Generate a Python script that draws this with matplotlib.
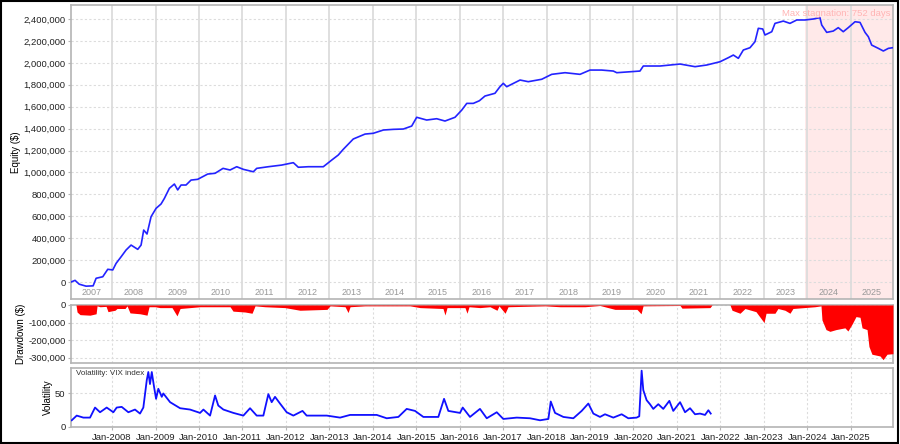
import numpy as np
import pandas as pd
import matplotlib
matplotlib.use("Agg")
import matplotlib.pyplot as plt
import matplotlib.dates as mdates
import matplotlib.ticker as mticker
from matplotlib.patches import Rectangle

plt.rcParams['font.family'] = ['Liberation Sans', 'DejaVu Sans']

# Equity curve ($)
eq_dates = ['2007-01-21', '2007-02-24', '2007-03-31', '2007-05-28', '2007-07-26', '2007-08-20',
            '2007-10-15', '2007-11-26', '2008-01-07', '2008-02-04', '2008-03-17', '2008-04-28',
            '2008-06-09', '2008-08-04', '2008-09-01', '2008-09-23', '2008-10-21', '2008-11-24',
            '2009-01-05', '2009-02-16', '2009-03-16', '2009-04-27', '2009-06-08', '2009-07-06',
            '2009-08-03', '2009-09-14', '2009-10-26', '2009-12-21', '2010-02-01', '2010-03-15',
            '2010-05-16', '2010-07-22', '2010-09-19', '2010-11-14', '2011-01-09', '2011-04-03',
            '2011-05-01', '2011-08-07', '2011-11-27', '2012-03-04', '2012-04-15', '2012-07-08',
            '2012-11-11', '2013-01-21', '2013-03-17', '2013-04-28', '2013-07-21', '2013-10-28',
            '2014-01-05', '2014-03-31', '2014-06-23', '2014-09-15', '2014-11-24', '2015-01-05',
            '2015-03-30', '2015-06-22', '2015-08-31', '2015-11-23', '2016-01-19', '2016-03-01',
            '2016-04-25', '2016-06-15', '2016-08-01', '2016-10-24', '2016-12-05', '2017-01-02',
            '2017-01-31', '2017-05-23', '2017-07-31', '2017-11-21', '2018-02-13', '2018-06-05',
            '2018-10-09', '2019-01-01', '2019-04-09', '2019-07-16', '2019-08-14', '2020-02-25',
            '2020-03-24', '2020-08-12', '2021-01-27', '2021-06-02', '2021-09-08', '2021-12-29',
            '2022-03-09', '2022-04-20', '2022-06-01', '2022-07-13', '2022-09-07', '2022-10-19',
            '2022-11-16', '2022-12-23', '2023-01-11', '2023-03-09', '2023-04-05', '2023-06-14',
            '2023-08-09', '2023-10-05', '2023-12-13', '2024-02-21', '2024-04-17', '2024-05-02',
            '2024-06-13', '2024-08-07', '2024-09-18', '2024-10-30', '2024-12-11', '2025-02-06',
            '2025-03-20', '2025-05-01', '2025-05-29', '2025-06-26', '2025-08-21', '2025-10-02',
            '2025-11-13', '2025-12-20']
eq_values = [0, 15000, -20000, -38000, -35000, 34000,
             48000, 116000, 110000, 170000, 230000, 292000,
             337000, 298000, 337000, 474000, 438000, 596000,
             672000, 712000, 763000, 855000, 894000, 840000,
             885000, 885000, 930000, 937000, 961000, 985000,
             992000, 1037000, 1022000, 1052000, 1028000, 1006000,
             1037000, 1052000, 1067000, 1089000, 1047000, 1052000,
             1052000, 1113000, 1159000, 1211000, 1305000, 1350000,
             1357000, 1387000, 1393000, 1396000, 1423000, 1503000,
             1478000, 1490000, 1469000, 1503000, 1569000, 1630000,
             1630000, 1654000, 1697000, 1722000, 1782000, 1813000,
             1782000, 1843000, 1828000, 1850000, 1895000, 1910000,
             1895000, 1934000, 1934000, 1925000, 1910000, 1925000,
             1971000, 1971000, 1989000, 1965000, 1980000, 2010000,
             2047000, 2071000, 2041000, 2117000, 2138000, 2193000,
             2315000, 2309000, 2254000, 2284000, 2360000, 2381000,
             2360000, 2391000, 2391000, 2400000, 2412000, 2345000,
             2278000, 2290000, 2321000, 2284000, 2321000, 2375000,
             2369000, 2278000, 2238000, 2162000, 2132000, 2108000,
             2132000, 2138000]

# Drawdown ($)
dd_dates = ['2007-01-21', '2007-03-04', '2007-03-13', '2007-04-07', '2007-06-30', '2007-08-20',
            '2007-08-28', '2007-09-22', '2007-11-12', '2007-11-28', '2008-01-26', '2008-02-12',
            '2008-04-19', '2008-05-06', '2008-05-31', '2008-08-23', '2008-10-21', '2008-11-07',
            '2008-12-27', '2009-02-07', '2009-05-19', '2009-06-30', '2009-07-26', '2009-10-18',
            '2010-01-10', '2010-09-19', '2010-10-14', '2011-01-23', '2011-03-23', '2011-04-17',
            '2011-07-10', '2011-12-25', '2012-04-29', '2012-12-12', '2013-01-07', '2013-05-13',
            '2013-06-07', '2013-06-24', '2013-10-28', '2014-11-10', '2015-02-02', '2015-08-14',
            '2015-08-31', '2015-09-17', '2016-02-15', '2016-03-03', '2016-03-20', '2016-06-20',
            '2016-09-12', '2016-11-10', '2016-11-27', '2017-01-17', '2017-02-11', '2017-12-19',
            '2018-04-24', '2018-11-20', '2019-03-26', '2019-07-30', '2020-01-31', '2020-03-05',
            '2020-03-22', '2021-01-27', '2021-02-12', '2021-10-06', '2021-10-23', '2022-03-23',
            '2022-04-09', '2022-06-15', '2022-07-27', '2022-10-27', '2023-01-03', '2023-01-20',
            '2023-04-05', '2023-04-30', '2023-06-28', '2023-08-09', '2023-09-03', '2024-03-06',
            '2024-04-26', '2024-05-04', '2024-06-07', '2024-07-10', '2024-08-30', '2024-11-13',
            '2024-12-08', '2025-01-11', '2025-02-14', '2025-03-20', '2025-04-06', '2025-05-18',
            '2025-06-03', '2025-06-28', '2025-09-04', '2025-09-30', '2025-11-02', '2025-12-22']
dd_values = [0, 0, -40000, -55000, -58000, -50000,
             -5000, -10000, -8000, -38000, -30000, -20000,
             -20000, -5000, -45000, -50000, -58000, -10000,
             -10000, -15000, -15000, -62000, -20000, -15000,
             -10000, -10000, -35000, -40000, -47000, -5000,
             -10000, -15000, -30000, -25000, -5000, -10000,
             -43000, -10000, -5000, -5000, -15000, -20000,
             -57000, -15000, -15000, -47000, -10000, -15000,
             -10000, -30000, -5000, -47000, -10000, -5000,
             -10000, -10000, -3000, -25000, -25000, -50000,
             -5000, -3000, -18000, -15000, 0, 0,
             -30000, -47000, -20000, -38000, -100000, -47000,
             -47000, -20000, -30000, -47000, -20000, -10000,
             -5000, -85000, -140000, -150000, -140000, -130000,
             -148000, -110000, -66000, -70000, -130000, -140000,
             -236000, -280000, -290000, -311000, -280000, -277000]

# VIX index
vix_dates = ['2007-01-27', '2007-03-10', '2007-05-05', '2007-06-30', '2007-08-11', '2007-09-22',
             '2007-11-17', '2008-01-12', '2008-02-09', '2008-03-22', '2008-05-17', '2008-07-12',
             '2008-08-23', '2008-09-20', '2008-10-19', '2008-11-01', '2008-11-15', '2008-11-30',
             '2008-12-19', '2009-01-05', '2009-01-24', '2009-02-22', '2009-03-07', '2009-05-03',
             '2009-07-26', '2009-10-18', '2010-01-10', '2010-02-07', '2010-04-04', '2010-05-16',
             '2010-06-12', '2010-07-25', '2010-10-17', '2011-01-09', '2011-03-06', '2011-05-01',
             '2011-06-26', '2011-08-07', '2011-09-04', '2011-10-02', '2011-11-13', '2012-01-08',
             '2012-03-04', '2012-05-20', '2012-06-24', '2012-12-10', '2013-04-01', '2013-06-24',
             '2013-09-30', '2014-02-03', '2014-04-28', '2014-08-04', '2014-10-13', '2014-12-22',
             '2015-03-02', '2015-07-06', '2015-08-23', '2015-09-28', '2016-01-04', '2016-01-27',
             '2016-03-28', '2016-06-20', '2016-08-16', '2016-11-08', '2017-01-02', '2017-04-25',
             '2017-08-15', '2017-11-07', '2018-01-16', '2018-02-05', '2018-03-13', '2018-05-22',
             '2018-08-14', '2018-10-23', '2018-12-18', '2019-01-29', '2019-03-26', '2019-05-07',
             '2019-07-16', '2019-09-24', '2019-11-19', '2020-01-28', '2020-02-19', '2020-03-10',
             '2020-03-24', '2020-04-21', '2020-05-19', '2020-06-16', '2020-07-28', '2020-09-08',
             '2020-10-29', '2020-12-01', '2021-01-27', '2021-03-10', '2021-04-21', '2021-06-02',
             '2021-07-14', '2021-08-25', '2021-09-22', '2021-10-12']
vix_values = [10, 17, 14, 14, 29, 22,
              29, 22, 29, 30, 22, 26,
              20, 29, 70, 82, 64, 82,
              60, 42, 57, 45, 50, 37,
              28, 26, 21, 26, 17, 47,
              32, 26, 21, 17, 28, 17,
              17, 49, 37, 45, 35, 22,
              17, 24, 17, 17, 14, 18,
              18, 18, 13, 15, 27, 24,
              15, 15, 42, 24, 21, 29,
              15, 27, 13, 22, 12, 14,
              13, 10, 12, 38, 21, 15,
              13, 24, 35, 20, 15, 19,
              14, 19, 13, 14, 16, 84,
              55, 40, 34, 27, 34, 27,
              39, 24, 37, 22, 28, 19,
              20, 18, 25, 20]

years = list(range(2007, 2026))
stag_start = '2023-12-13'
x_start, x_end = pd.Timestamp('2007-01-21'), pd.Timestamp('2025-12-22')

blue = '#2323ff'
grid_c = '#dcdcdc'
spine_c = '#b4b4b4'

fig = plt.figure(figsize=(9, 4.44), dpi=100)
ax1 = fig.add_axes([0.0789, 0.3266, 0.9133, 0.6622])
ax2 = fig.add_axes([0.0789, 0.1824, 0.9133, 0.1307], sharex=ax1)
ax3 = fig.add_axes([0.0789, 0.0383, 0.9133, 0.1329], sharex=ax1)

for ax in (ax1, ax2, ax3):
    for s in ax.spines.values():
        s.set_color(spine_c)
        s.set_linewidth(1.2)
    ax.tick_params(axis='both', labelsize=6.8, length=2, color=spine_c, labelcolor='#222222', pad=2)

# top panel: equity
ax1.plot(pd.to_datetime(eq_dates), eq_values, color=blue, lw=1.2, zorder=3)
ax1.set_ylim(-155000, 2528000)
ax1.set_yticks(np.arange(0, 2400001, 200000))
ax1.yaxis.set_major_formatter(mticker.FuncFormatter(lambda v, p: f'{v:,.0f}'))
ax1.grid(axis='y', color=grid_c, ls=(0, (2, 2)), lw=0.8)
ax1.set_ylabel('Equity ($)', fontsize=7, labelpad=1.5)
ax1.tick_params(axis='x', bottom=False, labelbottom=False)
ax1.axvspan(pd.Timestamp(stag_start), x_end, color='#ffe9e9', zorder=0, lw=0)
for y in years[1:]:
    ax1.axvline(pd.Timestamp(f'{y}-01-01'), color=grid_c, lw=1.3, zorder=1)
for y in years:
    a = max(pd.Timestamp(f'{y}-01-01'), x_start)
    b = min(pd.Timestamp(f'{y + 1}-01-01'), x_end)
    ax1.text(a + (b - a) / 2, 0.022, str(y), transform=ax1.get_xaxis_transform(),
             ha='center', va='center', fontsize=6.5, color='#999999')
ax1.text(0.997, 0.985, 'Max stagnation: 752 days', transform=ax1.transAxes,
         ha='right', va='top', fontsize=6.8, color='#ffb4b4')

# drawdown
ax2.fill_between(pd.to_datetime(dd_dates), dd_values, 0, color='#ff0000', lw=0, zorder=3)
ax2.set_ylim(-330000, 0)
ax2.set_yticks([0, -100000, -200000, -300000])
ax2.yaxis.set_major_formatter(mticker.FuncFormatter(lambda v, p: f'{v:,.0f}'))
ax2.set_ylabel('Drawdown ($)', fontsize=7, labelpad=1.5)
ax2.grid(True, color=grid_c, ls=(0, (2, 2)), lw=0.8)
ax2.tick_params(axis='x', bottom=False, labelbottom=False)

# volatility
ax3.plot(pd.to_datetime(vix_dates), vix_values, color='#1010ff', lw=1.3, zorder=3)
ax3.set_ylim(0, 88)
ax3.set_yticks([0, 50])
ax3.set_ylabel('Volatility', fontsize=7, labelpad=1.5)
ax3.grid(True, color=grid_c, ls=(0, (2, 2)), lw=0.8)
ax3.text(0.006, 0.96, 'Volatility: VIX index', transform=ax3.transAxes,
         ha='left', va='top', fontsize=5.8, color='#333333')
ax3.xaxis.set_major_locator(mdates.YearLocator())
ax3.xaxis.set_major_formatter(mdates.DateFormatter('%b-%Y'))
ax3.set_xlim(x_start, x_end)

fig.add_artist(Rectangle((0.001, 0.002), 0.997, 0.995, transform=fig.transFigure,
                         fill=False, edgecolor='black', lw=1.5))

fig.savefig('out.png', dpi=100)
